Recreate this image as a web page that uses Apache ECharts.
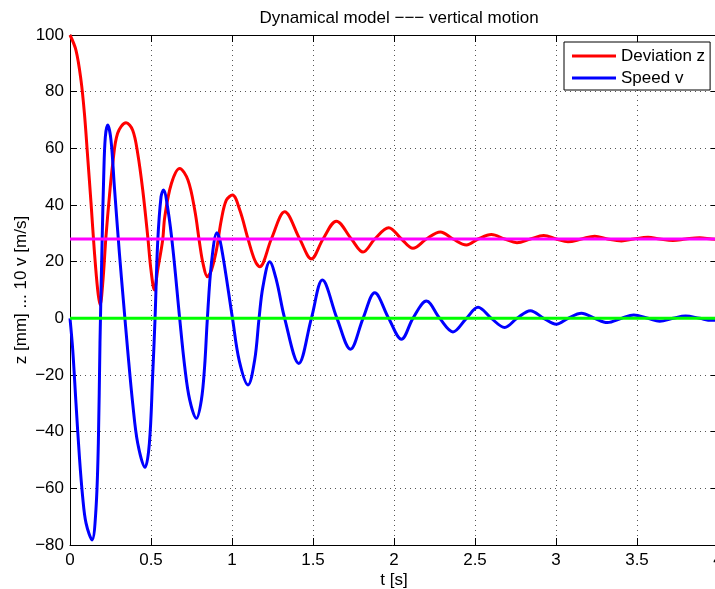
<!DOCTYPE html>
<html>
<head>
<meta charset="utf-8">
<script src="https://cdn.jsdelivr.net/npm/echarts@6/dist/echarts.min.js"></script>
<style>
  html, body { margin: 0; padding: 0; background: #fff; }
  #chart { width: 715px; height: 589px; }
</style>
</head>
<body>
<div id="chart"></div>
<script>
// Time samples [s] and deviation z [mm]
const zTime = [
  0, 0.037, 0.068, 0.089, 0.109, 0.130, 0.150, 0.171, 0.186, 0.202,
  0.222, 0.243, 0.264, 0.294, 0.346, 0.387, 0.418, 0.449, 0.480, 0.500,
  0.521, 0.541, 0.572, 0.585, 0.626, 0.677, 0.728, 0.770, 0.800, 0.821,
  0.848, 0.873, 0.904, 0.934, 0.965, 1.003, 1.048, 1.099, 1.140, 1.171,
  1.243, 1.325, 1.418, 1.490, 1.562, 1.644, 1.737, 1.809, 1.881, 1.967,
  2.046, 2.117, 2.200, 2.286, 2.364, 2.447, 2.519, 2.601, 2.683, 2.759,
  2.842, 2.924, 3.002, 3.074, 3.157, 3.239, 3.317, 3.404, 3.480, 3.568,
  3.640, 3.722, 3.800, 3.887, 3.960, 4.000
];
const zValues = [
  100, 94.6, 84, 72.3, 57, 40.6, 24, 10, 4.7, 12.3,
  28.8, 42.9, 54.7, 65.3, 69, 66.4, 58.2, 45.3, 28.8, 17,
  10, 17, 27.6, 35.8, 47.6, 52.9, 48.8, 38.2, 26.5, 19.4,
  14.7, 17, 24.1, 34.7, 41.7, 43.5, 38.2, 28, 20.6, 18.2,
  28, 37.6, 28, 21.0, 28, 34.3, 28, 23.4, 28, 32.0,
  28, 24.7, 28, 30.5, 28, 25.9, 28, 29.6, 28, 26.7,
  28, 29.2, 28, 27.0, 28, 29.0, 28, 27.3, 28, 28.6,
  28, 27.5, 28, 28.4, 28, 27.9
];

// Time samples [s] and speed, plotted as 10 v [m/s]
const vTime = [
  0, 0.017, 0.037, 0.058, 0.078, 0.099, 0.136, 0.160, 0.175, 0.185,
  0.198, 0.208, 0.218, 0.233, 0.253, 0.274, 0.305, 0.331, 0.356, 0.387,
  0.418, 0.463, 0.490, 0.510, 0.525, 0.541, 0.562, 0.577, 0.605, 0.636,
  0.677, 0.708, 0.739, 0.780, 0.811, 0.831, 0.848, 0.873, 0.907, 0.934,
  1.003, 1.045, 1.099, 1.140, 1.167, 1.191, 1.233, 1.274, 1.325,
  1.412, 1.490, 1.558, 1.648, 1.731, 1.809, 1.881, 1.967, 2.046, 2.117,
  2.200, 2.282, 2.364, 2.447, 2.519, 2.601, 2.683, 2.759, 2.842, 2.924,
  3.002, 3.074, 3.157, 3.239, 3.317, 3.404, 3.480, 3.568, 3.640, 3.722,
  3.800, 3.887, 3.960, 4.000
];
const vValues = [
  0, -11.2, -30, -48.8, -62.9, -72.3, -78.2, -67.6, -44, -8.8,
  26.5, 50, 64, 68.2, 62.9, 46.4, 22.9, 5.3, -11.2, -30,
  -44.1, -52.6, -44.1, -20.6, 0, 26.5, 42.9, 45.3, 38.2, 24.1,
  0, -17, -28.8, -35.3, -28.8, -17, 0, 19.4, 30.2, 25.3,
  0, -15, -23.5, -14.7, 0, 11.2, 20, 13.5, 0,
  -15.9, 0, 13.5, 0, -10.9, 0, 9.0, 0, -7.4, 0,
  6.1, 0, -4.8, 0, 3.9, 0, -3.2, 0, 2.7, 0,
  -2.1, 0, 1.8, 0, -1.5, 0, 1.2, 0, -1.0, 0,
  0.8, 0, -0.7, -0.6
];

// Reference levels: static equilibrium of z and zero speed
const equilibriumZ = 28;
const zeroLevel = 0;
const timeRange = [0, 4];

// Axis ticks
const xTicks = { min: 0, max: 4, interval: 0.5 };
const yTicks = { min: -80, max: 100, interval: 20 };

const zSeries = zTime.map((t, i) => [t, zValues[i]]);
const vSeries = vTime.map((t, i) => [t, vValues[i]]);
const eqSeries = timeRange.map(t => [t, equilibriumZ]);
const zeroSeries = timeRange.map(t => [t, zeroLevel]);

const FONT = 'Liberation Sans, Arial, Helvetica, sans-serif';
const FS = 17;

const chart = echarts.init(document.getElementById('chart'), null, { renderer: 'canvas' });

// Tick labels use a true minus sign for negative numbers
const tickFormat = v => String(v).replace('-', '\u2212');

const baseAxis = {
  type: 'value',
  axisLine: { show: true, onZero: false, lineStyle: { color: '#000', width: 1 } },
  axisTick: { show: true, inside: true, length: 7, lineStyle: { color: '#000', width: 1 } },
  splitLine: { show: true, lineStyle: { color: '#555', width: 1, type: [1, 4] } },
  axisLabel: { color: '#000', fontSize: FS, fontFamily: FONT, formatter: tickFormat },
  nameTextStyle: { color: '#000', fontSize: FS, fontFamily: FONT },
  nameMoveOverlap: false
};

const boxAxis = {
  type: 'value',
  axisLine: { show: true, onZero: false, lineStyle: { color: '#000', width: 1 } },
  axisTick: { show: true, inside: true, length: 7, lineStyle: { color: '#000', width: 1 } },
  splitLine: { show: false },
  axisLabel: { show: false }
};

chart.setOption({
  animation: false,
  backgroundColor: '#fff',
  title: {
    text: 'Dynamical model \u2212\u2212\u2212 vertical motion',
    left: 394,
    top: 5,
    textAlign: 'center',
    textStyle: { color: '#000', fontSize: FS, fontWeight: 'normal', fontFamily: FONT }
  },
  grid: { left: 70, top: 35, width: 648, height: 510, outerBoundsMode: 'none' },
  legend: {
    data: ['Deviation z', 'Speed v'],
    orient: 'vertical',
    left: 564,
    top: 42,
    padding: [4, 5, 2, 8],
    itemGap: 2,
    itemWidth: 44,
    itemHeight: 3,
    icon: 'rect',
    backgroundColor: '#fff',
    borderColor: '#000',
    borderWidth: 1,
    borderRadius: 0,
    textStyle: { color: '#000', fontSize: FS, fontFamily: FONT, lineHeight: 20 }
  },
  xAxis: [
    Object.assign({}, baseAxis, {
      min: xTicks.min, max: xTicks.max, interval: xTicks.interval,
      position: 'bottom',
      name: 't [s]', nameLocation: 'middle', nameGap: 27,
      axisLabel: Object.assign({}, baseAxis.axisLabel, { margin: 7 })
    }),
    Object.assign({}, boxAxis, {
      min: xTicks.min, max: xTicks.max, interval: xTicks.interval,
      position: 'top'
    })
  ],
  yAxis: [
    Object.assign({}, baseAxis, {
      min: yTicks.min, max: yTicks.max, interval: yTicks.interval,
      position: 'left',
      name: 'z [mm] ... 10 v [m/s]', nameLocation: 'middle', nameGap: 40, nameRotate: 90,
      axisLabel: Object.assign({}, baseAxis.axisLabel, { margin: 6 })
    }),
    Object.assign({}, boxAxis, {
      min: yTicks.min, max: yTicks.max, interval: yTicks.interval,
      position: 'right'
    })
  ],
  series: [
    {
      name: 'Deviation z', type: 'line', data: zSeries,
      smooth: 0.35, symbol: 'none', clip: true,
      lineStyle: { color: '#ff0000', width: 3 }, itemStyle: { color: '#ff0000' }, z: 2
    },
    {
      name: 'Speed v', type: 'line', data: vSeries,
      smooth: 0.35, symbol: 'none', clip: true,
      lineStyle: { color: '#0000ff', width: 3 }, itemStyle: { color: '#0000ff' }, z: 3
    },
    {
      name: 'equilibrium', type: 'line', data: eqSeries,
      symbol: 'none', lineStyle: { color: '#ff00ff', width: 3 }, z: 4, silent: true
    },
    {
      name: 'zero', type: 'line', data: zeroSeries,
      symbol: 'none', lineStyle: { color: '#00ff00', width: 3 }, z: 4, silent: true
    }
  ]
});
</script>
</body>
</html>
